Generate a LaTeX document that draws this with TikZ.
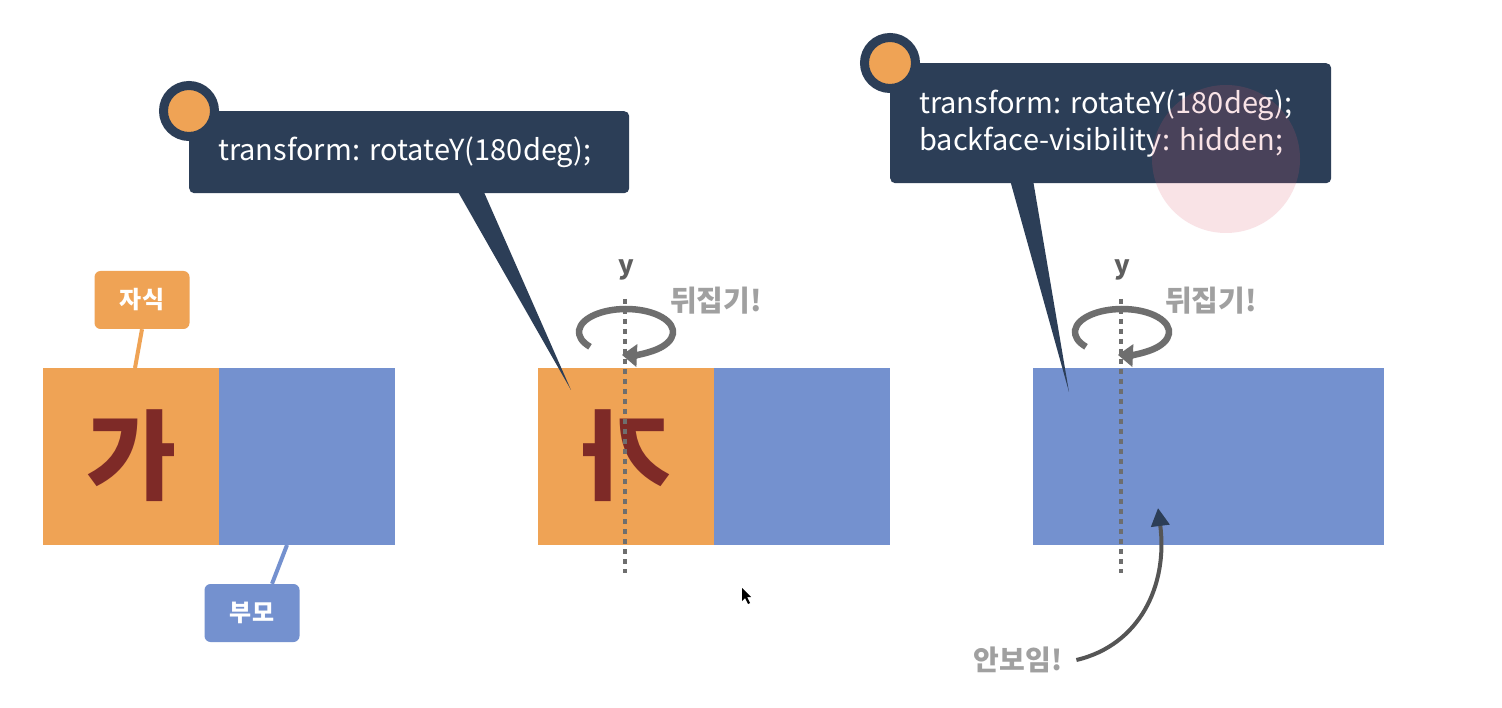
\documentclass[tikz,border=0pt]{standalone}
\usepackage{fontspec}
\usepackage{graphicx}
\setmainfont{Noto Sans CJK KR}
\usetikzlibrary{arrows.meta,positioning}
\definecolor{boxorange}{HTML}{EFA355}
\definecolor{boxblue}{HTML}{7491CF}
\definecolor{navy}{HTML}{2C3E57}
\definecolor{glyphred}{HTML}{7E2A27}
\definecolor{axisgray}{HTML}{6E6E6E}
\definecolor{notegray}{HTML}{A0A0A0}
\definecolor{curvegray}{HTML}{555555}
\definecolor{spotpink}{HTML}{DC5A6E}
\tikzset{
  face/.style={minimum height=177pt, minimum width=176pt, inner sep=0pt, outer sep=0pt, anchor=north west},
  tag/.style={rounded corners=6pt, minimum width=95pt, minimum height=58pt, inner sep=0pt, text=white, font=\bfseries\fontsize{24}{24}\selectfont},
  callout/.style={fill=navy, rounded corners=5pt, text=white, anchor=north west, inner ysep=0pt, inner xsep=29pt, align=left, font=\frenchspacing\fontsize{29}{37}\selectfont},
  badge/.style={circle, fill=boxorange, draw=navy, line width=9pt, minimum size=51pt, inner sep=0pt},
  glyph/.style={text=glyphred, font=\bfseries\fontsize{98}{98}\selectfont, inner sep=0pt},
  axis/.style={axisgray, line width=4pt, dash pattern=on 5pt off 5pt},
  spin/.style={axisgray, line width=6.5pt, -{Triangle[length=15pt,width=22pt]}},
  flip/.style={notegray, font=\bfseries\fontsize{29}{29}\selectfont, inner sep=0pt},
  axislabel/.style={text=axisgray!85!black, font=\bfseries\fontsize{26}{26}\selectfont, inner sep=0pt}
}
\begin{document}
\begin{tikzpicture}[x=1pt, y=-1pt]
  \useasboundingbox[fill=white] (0,0) rectangle (1502,708);

  % before
  \node[face, fill=boxorange] (childA) at (43,368) {};
  \node[face, fill=boxblue] (parentA) at (219,368) {};
  \node[glyph] (charA) at (132,456) {가};
  \node[tag, fill=boxorange] (tagChild) at (142,300) {자식};
  \node[tag, fill=boxblue] (tagParent) at (252,613) {부모};
  \draw[boxorange, line width=4pt] (tagChild.south) -- ([xshift=92pt]childA.north west);
  \draw[boxblue, line width=4pt] ([xshift=20pt]tagParent.north) -- ([xshift=68pt]parentA.south west);

  % rotateY only
  \node[face, fill=boxorange] (childB) at (538,368) {};
  \node[face, fill=boxblue] (parentB) at (714,368) {};
  \node[glyph] (charB) at (626,456) {\reflectbox{가}};
  \draw[spin] (626,332) ++(140:47 and 23) arc[start angle=140, end angle=455, x radius=47, y radius=23];
  \draw[axis] (625,299) -- (625,573);
  \node[axislabel] (yB) at (626,270) {y};
  \node[flip] (flipB) at (716,301) {뒤집기!};

  % rotateY + backface-visibility
  \node[face, fill=boxblue, minimum width=351pt] (parentC) at (1033,368) {};
  \draw[spin] (1122,332) ++(140:47 and 23) arc[start angle=140, end angle=455, x radius=47, y radius=23];
  \draw[axis] (1121,299) -- (1121,573);
  \node[axislabel] (yC) at (1122,270) {y};
  \node[flip] (flipC) at (1211,301) {뒤집기!};
  \node[flip, font=\bfseries\fontsize{28}{28}\selectfont] (hideNote) at (1018,660) {안보임!};
  \draw[curvegray, line width=4pt, -{Triangle[length=18pt,width=18pt,color=navy]}] ([xshift=14pt]hideNote.east) .. controls (1140,645) and (1168,585) .. (1158,508);

  % callouts
  \fill[navy] (457,190) -- (483,190) -- (571,390) -- cycle;
  \fill[navy] (1010,180) -- (1033,180) -- (1069,392) -- cycle;
  \node[callout, minimum height=82pt, text width=382pt] (noteA) at (189,111) {transform: rotateY(180deg);};
  \node[badge] (dotA) at (noteA.north west) {};
  \node[callout, minimum height=120pt, text width=383pt] (noteB) at (890,63) {transform: rotateY(180deg);\\backface-visibility: hidden;};
  \node[badge] (dotB) at (noteB.north west) {};

  % pointer highlight and cursor
  \fill[spotpink, opacity=0.17] (1226,159) circle[radius=74];
  \fill[black] (742,588) -- (742,601) -- (745,598) -- (748,604) -- (750,603) -- (747,597) -- (751,597) -- cycle;
\end{tikzpicture}
\end{document}
